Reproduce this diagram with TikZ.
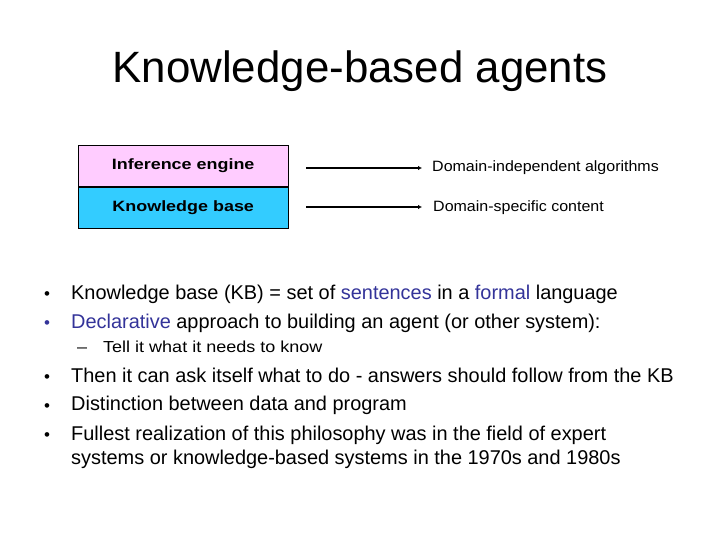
\documentclass[tikz,border=0pt]{standalone}
\usepackage{fontspec}
\setmainfont{Liberation Sans}
\newfontfamily\partfont[FakeStretch=1.2]{Liberation Sans}
\newfontfamily\lblfont[FakeStretch=1.07]{Liberation Sans}
\newfontfamily\subfont[FakeStretch=1.13]{Liberation Sans}
\usetikzlibrary{positioning,arrows.meta}
\definecolor{kwblue}{HTML}{333399}
\definecolor{iepink}{HTML}{FFCCFF}
\definecolor{kbcyan}{HTML}{33CCFF}
\newcommand{\kw}[1]{\textcolor{kwblue}{#1}}
\begin{document}
\begin{tikzpicture}[x=1bp,y=-1bp,
  part/.style={draw,minimum width=210bp,minimum height=41.5bp,inner sep=0pt,font=\partfont\fontsize{15}{18}\selectfont\bfseries},
  lbl/.style={anchor=base west,inner sep=0pt,font=\lblfont\fontsize{15}{18}\selectfont},
  arr/.style={-{Latex[length=4bp,width=4.5bp]},line width=2bp},
  txt/.style={anchor=base west,inner sep=0pt,font=\fontsize{20}{24}\selectfont},
  sub/.style={anchor=base west,inner sep=0pt,font=\subfont\fontsize{16}{19}\selectfont}]
\useasboundingbox (0,0) rectangle (720,540);
\node [anchor=base,font=\fontsize{44}{50}\selectfont] (title) at (360,83) {Knowledge-based agents};
% the two parts of the agent
\node [part,fill=iepink,anchor=north west] (ie) at (78,145) {Inference engine};
\node [part,fill=kbcyan,below=0pt of ie] (kb) {Knowledge base};
\node [lbl] (d1) at (432,172) {Domain-independent algorithms};
\node [lbl] (d2) at (433,212) {Domain-specific content};
\coordinate (s1) at (306,168);
\coordinate (s2) at (306,207);
\draw [arr] (s1) -- (422,168);
\draw [arr] (s2) -- (422,207);
% bullets
\foreach \n/\y/\c in {1/296/black,2/325/kwblue,3/379/black,4/408/black,5/437/black}{
  \node [font=\fontsize{17}{19}\selectfont,inner sep=0pt,text=\c] (dot\n) at (47,\y) {\textbullet};
}
\node [txt] (b1) at (71,299) {Knowledge base (KB) = set of \kw{sentences} in a \kw{formal} language};
\node [txt] (b2) at (71,328) {\kw{Declarative} approach to building an agent (or other system):};
\node [sub] (dash) at (77,352) {–};
\node [sub] (s) at (103,352) {Tell it what it needs to know};
\node [txt] (b3) at (71,382) {Then it can ask itself what to do - answers should follow from the KB};
\node [txt] (b4) at (71,410) {Distinction between data and program};
\node [txt] (b5) at (71,440) {Fullest realization of this philosophy was in the field of expert};
\node [txt] (b6) at (71,464) {systems or knowledge-based systems in the 1970s and 1980s};
\end{tikzpicture}
\end{document}
